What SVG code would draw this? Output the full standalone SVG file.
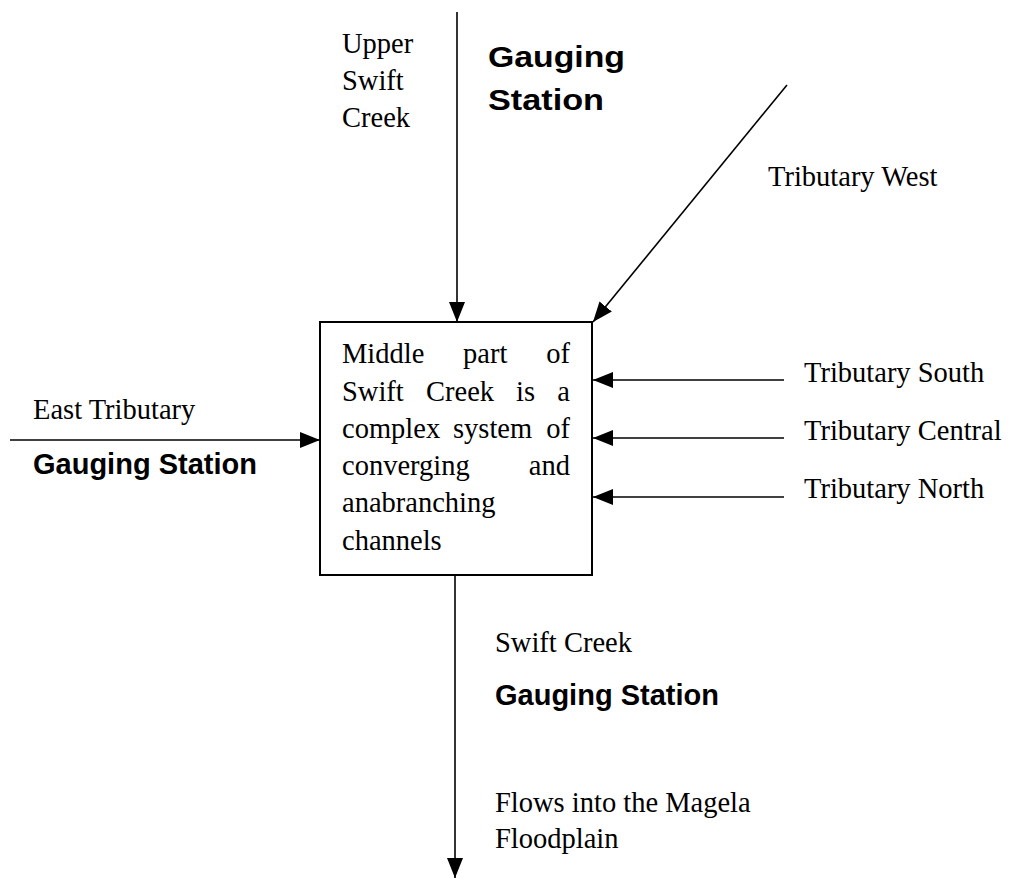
<svg xmlns="http://www.w3.org/2000/svg" width="1016" height="878" viewBox="0 0 1016 878">
<style>
.t{font-family:"Liberation Serif","Times New Roman",serif;font-size:28.5px;fill:#000}
.b{font-family:"Liberation Sans",Arial,sans-serif;font-size:29px;font-weight:bold;fill:#000}
.ln{stroke:#000;stroke-width:1.6;fill:none}
</style>
<defs>
<marker id="ah" markerUnits="userSpaceOnUse" viewBox="0 0 20 16" refX="20" refY="8" markerWidth="20" markerHeight="16" orient="auto">
<path d="M0,0 L20,8 L0,16 Z" fill="#000"/>
</marker>
</defs>
<rect width="1016" height="878" fill="#fff"/>
<g id="connectors">
<line class="ln" x1="457" y1="12" x2="457" y2="322" marker-end="url(#ah)"/>
<line class="ln" x1="787" y1="85" x2="593" y2="322" marker-end="url(#ah)"/>
<line class="ln" x1="784" y1="380" x2="593" y2="380" stroke-width="2" marker-end="url(#ah)"/>
<line class="ln" x1="784" y1="438" x2="593" y2="438" marker-end="url(#ah)"/>
<line class="ln" x1="784" y1="497" x2="593" y2="497" marker-end="url(#ah)"/>
<line class="ln" x1="10" y1="440" x2="320" y2="440" marker-end="url(#ah)"/>
<line class="ln" x1="455" y1="575" x2="455" y2="878" marker-end="url(#ah)"/>
</g>
<g id="box">
<rect x="320" y="322" width="272" height="253" fill="#fff" stroke="#000" stroke-width="2"/>
<text class="t" x="342" y="363">Middle</text>
<text class="t" x="463" y="363">part</text>
<text class="t" x="570" y="363" text-anchor="end">of</text>
<text class="t" x="342" y="401">Swift</text>
<text class="t" x="426" y="401">Creek</text>
<text class="t" x="516" y="401">is</text>
<text class="t" x="570" y="401" text-anchor="end">a</text>
<text class="t" x="342" y="438">complex</text>
<text class="t" x="453" y="438">system</text>
<text class="t" x="570" y="438" text-anchor="end">of</text>
<text class="t" x="342" y="475">converging</text>
<text class="t" x="570" y="475" text-anchor="end">and</text>
<text class="t" x="342" y="512">anabranching</text>
<text class="t" x="342" y="550">channels</text>
</g>
<g id="upper">
<text class="t" x="342" y="53">Upper</text>
<text class="t" x="342" y="90">Swift</text>
<text class="t" x="342" y="127">Creek</text>
<text class="b" x="488" y="67" font-size="30" textLength="137" lengthAdjust="spacingAndGlyphs">Gauging</text>
<text class="b" x="488" y="110" font-size="30" textLength="116" lengthAdjust="spacingAndGlyphs">Station</text>
</g>
<g id="west"><text class="t" x="768" y="186">Tributary West</text></g>
<g id="south"><text class="t" x="804" y="382">Tributary South</text></g>
<g id="central"><text class="t" x="804" y="440">Tributary Central</text></g>
<g id="north"><text class="t" x="804" y="498">Tributary North</text></g>
<g id="east">
<text class="t" x="33" y="419">East Tributary</text>
<text class="b" x="33" y="474">Gauging Station</text>
</g>
<g id="outlet">
<text class="t" x="495" y="652">Swift Creek</text>
<text class="b" x="495" y="705">Gauging Station</text>
<text class="t" x="495" y="812">Flows into the Magela</text>
<text class="t" x="495" y="848">Floodplain</text>
</g>
</svg>
